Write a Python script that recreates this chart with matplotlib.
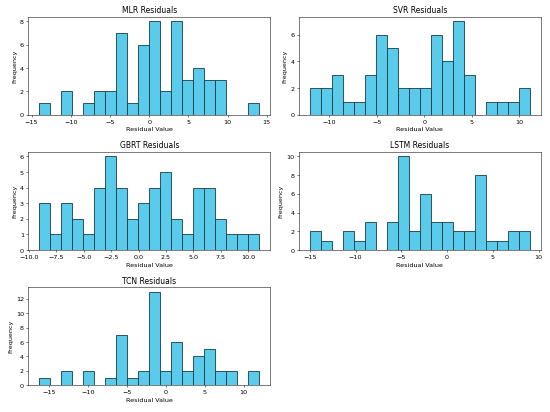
import numpy as np
import matplotlib
matplotlib.use("Agg")
import matplotlib.pyplot as plt

# 20-bin histograms of residuals (counts)
models = ["MLR", "SVR", "GBRT", "LSTM", "TCN"]

mlr_range = (-14.0, 14.06)
mlr_counts = [1, 0, 2, 0, 1, 2, 2, 7, 1, 6, 8, 2, 8, 3, 4, 3, 3, 0, 0, 1]

svr_range = (-12.02, 11.08)
svr_counts = [2, 2, 3, 1, 1, 3, 6, 5, 2, 2, 2, 6, 4, 7, 3, 0, 1, 1, 1, 2]

gbrt_range = (-9.03, 11.0)
gbrt_counts = [3, 1, 3, 2, 1, 4, 6, 4, 2, 3, 4, 5, 2, 1, 4, 4, 2, 1, 1, 1]

lstm_range = (-15.0, 9.02)
lstm_counts = [2, 1, 0, 2, 1, 3, 0, 3, 10, 2, 6, 3, 3, 2, 2, 8, 1, 1, 2, 2]

tcn_range = (-16.19, 12.0)
tcn_counts = [1, 0, 2, 0, 2, 0, 1, 7, 1, 2, 13, 2, 6, 2, 4, 5, 2, 2, 0, 2]

ranges = [mlr_range, svr_range, gbrt_range, lstm_range, tcn_range]
counts = [mlr_counts, svr_counts, gbrt_counts, lstm_counts, tcn_counts]

fig, axes = plt.subplots(3, 2, figsize=(12, 9))
axes = axes.flatten()

for i, name in enumerate(models):
    ax = axes[i]
    lo, hi = ranges[i]
    c = np.array(counts[i])
    edges = np.linspace(lo, hi, len(c) + 1)
    ax.hist(edges[:-1], bins=edges, weights=c, color='#5BCBEB',
            edgecolor='#163A44', linewidth=1.3)
    ax.set_title(f"{name} Residuals", fontsize=12)
    ax.set_xlabel("Residual Value", fontsize=10)
    ax.set_ylabel("Frequency", fontsize=10)

axes[5].axis('off')

plt.tight_layout()
plt.savefig("out.png", dpi=550 / 12)
